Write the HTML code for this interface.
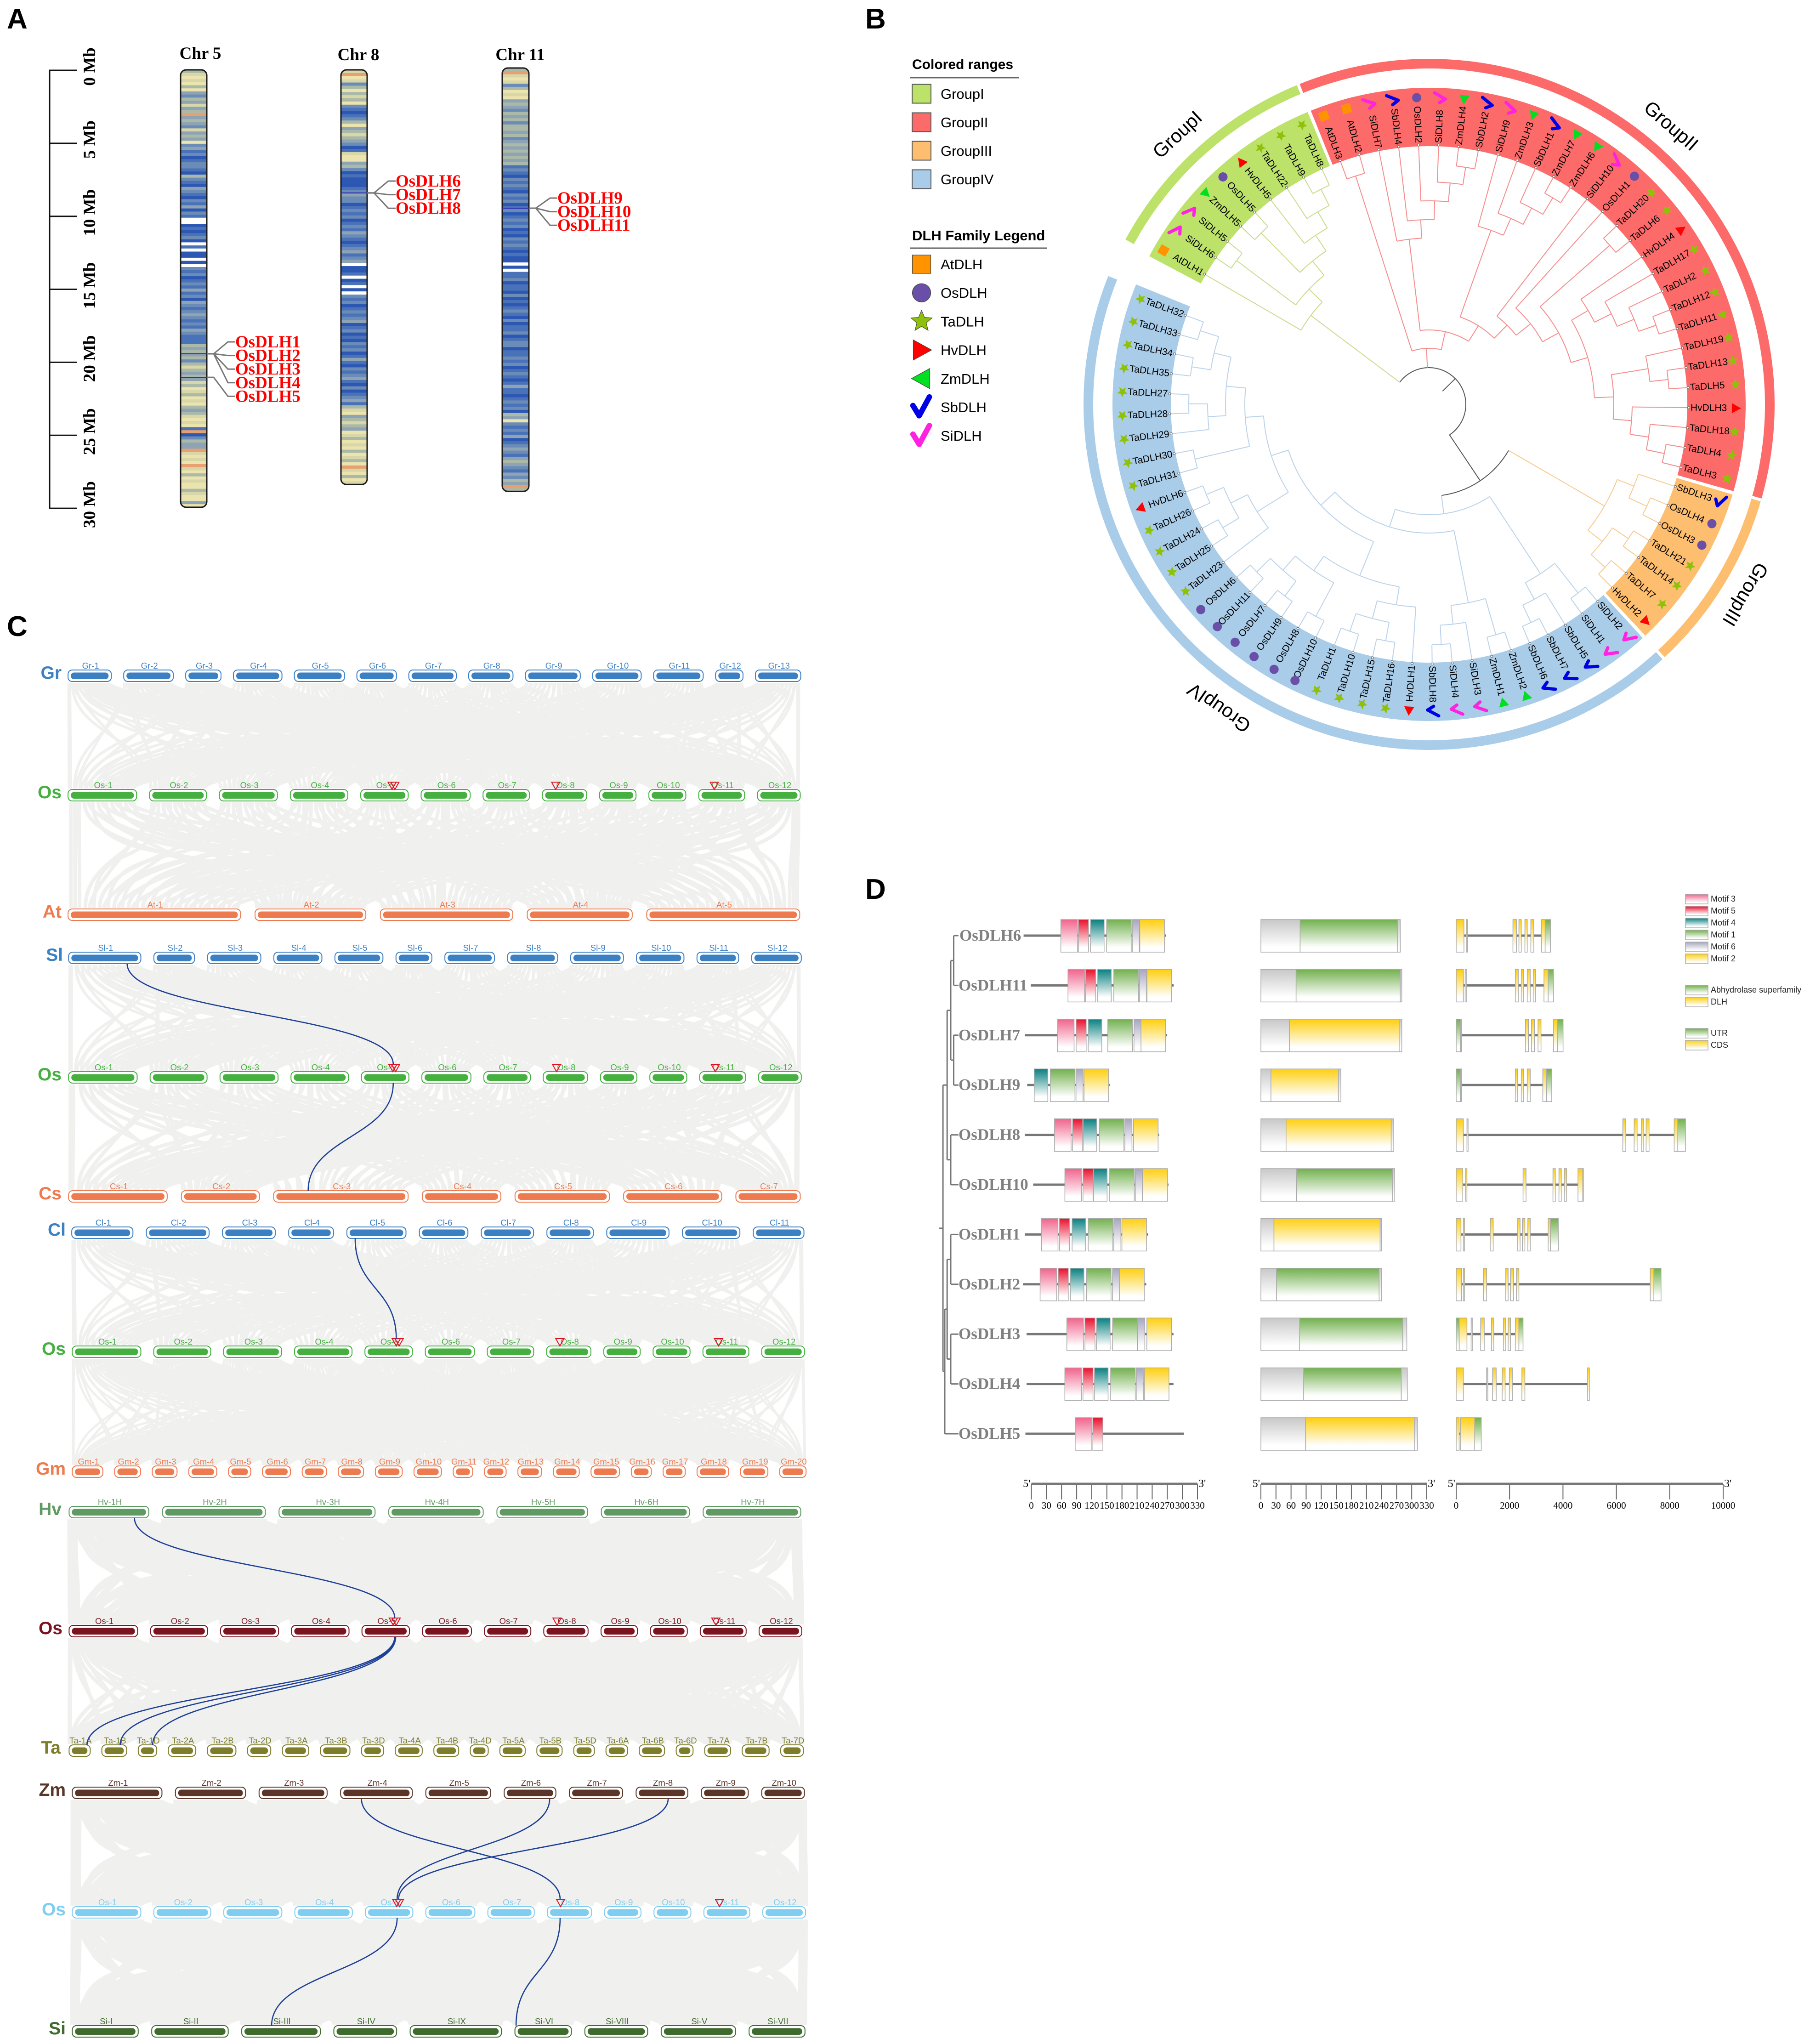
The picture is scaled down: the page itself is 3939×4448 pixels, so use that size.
<!DOCTYPE html>
<html lang="en">
<head>
<meta charset="utf-8">
<title>DLH gene family figure</title>
<style>
html,body{margin:0;padding:0;background:#fff}
svg{display:block}
text{font-family:"Liberation Sans",Arial,sans-serif}
.serif{font-family:"Liberation Serif","Times New Roman",serif}
</style>
</head>
<body>
<svg id="fig" xmlns="http://www.w3.org/2000/svg" width="3939" height="4448" viewBox="0 0 3939 4448">
<defs id="defs"></defs>
<rect x="0" y="0" width="3939" height="4448" fill="#fff"/>
<g font-weight="bold" font-size="62" fill="#000">
<text x="15" y="62">A</text>
<text x="1883" y="62">B</text>
<text x="15" y="1384">C</text>
<text x="1883" y="1956">D</text>
</g>
<g id="panelA"></g>
<g id="panelB"></g>
<g id="panelC"></g>
<g id="panelD"></g>
</svg>
<script>
/* ---------- shared helpers ---------- */
const NS='http://www.w3.org/2000/svg';
function mk(tag,attrs,parent){
  const e=document.createElementNS(NS,tag);
  for(const k in attrs)e.setAttribute(k,attrs[k]);
  if(parent)parent.appendChild(e);
  return e;
}
function txt(parent,str,attrs){
  const e=mk('text',attrs,parent);
  e.textContent=str;
  return e;
}
const defs=document.getElementById('defs');

/* ---------- PANEL A data ---------- */
const mbTicks=[0,5,10,15,20,25,30];
const chrNames=['Chr 5','Chr 8','Chr 11'];
const chrLengthsMb=[29.96,28.4,29.0];
const chrBands=[
 '3212131453424 3r434524341546576556735674567564756007676570607707056576564657456545656456663434353234342312312134321216r75344r2121r2131211321141'.replace(' ',''),
 '2r125313231567653143234576211435767776545576565765645676546540776076070565765654765767565764675654675765463214323412312131231r21312',
 '3r21253121434534353343543434343656756567565765765657675656767707066576675767656757665765576656576567646676565734156564765456434564534r3'
];
const chrGenes=[
 [['OsDLH1',19.45],['OsDLH2',19.45],['OsDLH3',19.45],['OsDLH4',19.45],['OsDLH5',21.06]],
 [['OsDLH6',8.43],['OsDLH7',8.43],['OsDLH8',8.43]],
 [['OsDLH9',9.6],['OsDLH10',9.6],['OsDLH11',9.6]]
];

/* ---------- PANEL B data ---------- */
const leafNames=['AtDLH1','SiDLH6','SiDLH5','ZmDLH5','OsDLH5','HvDLH5','TaDLH22','TaDLH9','TaDLH8',
'AtDLH3','AtDLH2','SiDLH7','SbDLH4','OsDLH2','SiDLH8','ZmDLH4','SbDLH2','SiDLH9','ZmDLH3','SbDLH1','ZmDLH7','ZmDLH6','SiDLH10','OsDLH1','TaDLH20','TaDLH6','HvDLH4','TaDLH17','TaDLH2','TaDLH12','TaDLH11','TaDLH19','TaDLH13','TaDLH5','HvDLH3','TaDLH18','TaDLH4','TaDLH3',
'SbDLH3','OsDLH4','OsDLH3','TaDLH21','TaDLH14','TaDLH7','HvDLH2',
'SiDLH2','SiDLH1','SbDLH5','SbDLH7','SbDLH6','ZmDLH2','ZmDLH1','SiDLH3','SiDLH4','SbDLH8','HvDLH1','TaDLH16','TaDLH15','TaDLH10','TaDLH1','OsDLH10','OsDLH8','OsDLH9','OsDLH7','OsDLH11','OsDLH6','TaDLH23','TaDLH25','TaDLH24','TaDLH26','HvDLH6','TaDLH31','TaDLH30','TaDLH29','TaDLH28','TaDLH27','TaDLH35','TaDLH34','TaDLH33','TaDLH32'];
const groupNames=['GroupI','GroupII','GroupIII','GroupIV'];
const groupColors=['#bce26a','#fd6a6a','#fdbf6f','#a9cce9'];
const groupLines=['#c9dc8e','#f58e8e','#f7cb94','#bcd3ea'];
const groupFirstLeaf=[0,9,38,45];
const groupLastLeaf=[8,37,44,79];
const groupLabelAngles=[-43,41,121,214.7];
const treeG1=[322,0,[362,[523,1,2],[402,[522,3,4],[443,5,[484,6,[524,7,8]]]]]];
const g2a=[362,11,[402,12,[443,13,[484,14,[522,15,16]]]]];
const g2b=[402,17,[442,18,[482,19,[524,20,21]]]];
const g2c=[402,26,[443,27,[483,28,[523,29,30]]]];
const g2d=[402,[483,31,[523,32,33]],[442,34,[483,35,[523,36,37]]]];
const g2e=[322,[524,24,25],[360,g2c,g2d]];
const treeG2=[122,[522,9,10],[162,g2a,[202,g2b,[242,22,[282,23,g2e]]]]];
const treeG3=[441,[480,38,[523,39,40]],[481,[523,41,42],[522,43,44]]];
const g4a=[401,[523,71,72],[443,[482,73,[523,74,75]],[481,[523,76,77],[523,78,79]]]];
const g4b=[441,66,[482,[523,67,68],[523,69,70]]];
const g4c=[402,[440,[481,[523,64,65],[522,62,63]],[523,60,61]],[442,[482,[523,58,59],[523,56,57]],55]];
const g4d=[440,[522,50,51],[481,52,[523,53,54]]];
const g4e=[441,[523,45,46],[482,47,[524,48,49]]];
const treeG4=[240,[280,[322,[361,g4a,g4b],g4c],g4d],g4e];
const familyNames=['AtDLH','OsDLH','TaDLH','HvDLH','ZmDLH','SbDLH','SiDLH'];

/* ---------- PANEL C data ---------- */
const osLengths=[130,108,110,109,90,93,88,84,69,70,87,81];
const synRows=[
 {sp:'Gr',color:'#3c80c4',top:1458,l:129,r:1518,lab:134,len:[82,94,67,92,95,75,90,84,104,92,94,52,86]},
 {sp:'Os',color:'#45b040',top:1718,l:129,r:1517,lab:134,len:osLengths,mark:1},
 {sp:'At',color:'#ee7b50',top:1978,l:129,r:1516,lab:134,len:[327,210,251,199,290]},
 {sp:'Sl',color:'#3c80c4',top:2072,l:130,r:1519,lab:137,len:[137,77,101,91,91,68,94,95,100,90,79,94]},
 {sp:'Os',color:'#45b040',top:2332,l:130,r:1519,lab:134,len:osLengths,mark:1},
 {sp:'Cs',color:'#ee7b50',top:2591,l:130,r:1517,lab:134,len:[187,148,255,149,179,186,122]},
 {sp:'Cl',color:'#3c80c4',top:2670,l:136,r:1524,lab:143,len:[116,119,100,85,112,92,99,88,118,109,96]},
 {sp:'Os',color:'#45b040',top:2929,l:137,r:1525,lab:143,len:osLengths,mark:1},
 {sp:'Gm',color:'#ee7b50',top:3190,l:137,r:1528,lab:143,len:[58,49,47,53,42,53,46,48,51,52,37,41,45,49,54,38,42,60,52,50]},
 {sp:'Hv',color:'#5e9a62',top:3278,l:131,r:1518,lab:134,len:[151,195,182,179,172,167,185],names:['1H','2H','3H','4H','5H','6H','7H']},
 {sp:'Os',color:'#7a1520',top:3537,l:131,r:1520,lab:136,len:osLengths,mark:1},
 {sp:'Ta',color:'#7d7d2a',top:3797,l:131,r:1523,lab:132,len:[40,47,35,52,54,44,50,56,42,51,47,34,48,48,39,41,48,32,49,51,43],names:['1A','1B','1D','2A','2B','2D','3A','3B','3D','4A','4B','4D','5A','5B','5D','6A','6B','6D','7A','7B','7D']},
 {sp:'Zm',color:'#5a3528',top:3889,l:137,r:1525,lab:143,len:[170,133,129,136,123,98,101,98,89,81]},
 {sp:'Os',color:'#7fcdf0',top:4149,l:137,r:1527,lab:143,len:osLengths,mark:1},
 {sp:'Si',color:'#3f6b2e',top:4408,l:137,r:1526,lab:143,len:[125,145,149,119,173,107,119,141,106],names:['I','II','III','IV','IX','VI','VIII','V','VII']}
];
const synPairs=[[0,1],[1,2],[3,4],[4,5],[6,7],[7,8],[9,10],[10,11],[12,13],[13,14]];
const synPairWeights=[6,8,6,8,6,5,14,8,14,14];
const synPairLanes=[2,3,2,2,2,2,3,2,3,3];
const laneBend=[0.5,0.22,0.72];
const osMarkChrom=[4,4,7,10];
const osMarkFrac=[0.66,0.72,0.30,0.34];
const highlightLinks=[
 [3,0,0.81,4,4,0.67],[4,4,0.67,5,2,0.257],[6,4,0.14,7,4,0.66],
 [9,0,0.82,10,4,0.69],[10,4,0.69,11,0,0.85],[10,4,0.70,11,1,0.74],[10,4,0.71,11,2,0.78],
 [12,3,0.29,13,7,0.29],[12,5,0.88,13,4,0.67],[12,7,0.62,13,4,0.70],
 [13,4,0.67,14,2,0.38],[13,7,0.29,14,5,0.02]
];

/* ---------- PANEL D data ---------- */
const geneNames=['OsDLH6','OsDLH11','OsDLH7','OsDLH9','OsDLH8','OsDLH10','OsDLH1','OsDLH2','OsDLH3','OsDLH4','OsDLH5'];
const proteinLengths=[283,284,283,164,267,269,245,245,292,292,315];
const rowOffsets=[252,264,254,258,254,268,254,251,257,257,255];
const motifOrder=['m3','m5','m4','m1','m6','m2'];
const motifWidths={m3:33,m5:20,m4:27,m1:49,m6:14,m2:49};
const motifStarts=[
 [74,109,133,165,216,231],[74,109,133,165,216,231],[65,102,126,165,217,231],
 [null,null,14,46,97,113],[59,95,116,148,199,216],[63,99,120,152,203,218],
 [33,69,94,126,177,193],[34,70,94,126,178,192],[80,116,139,171,221,239],
 [76,112,135,167,218,234],[99,134,null,null,null,null]
];
const domainStart=[78,70,57,20,50,71,26,31,77,85,89];
const domainEnd=[272,277,276,154,259,262,237,235,282,279,305];
const domainTotal=[277,280,280,159,264,266,240,240,290,291,311];
const domainKind=['G','G','Y','Y','Y','G','Y','G','G','G','Y'];
const geneEnd=[3557,3646,4004,3579,8590,4765,3825,7673,2505,4989,940];
const geneCds=[
 [0,291,380,425,2125,2259,2349,2438,2573,2662,2796,2908,3199,3333],
 [0,268,336,380,2215,2326,2438,2528,2662,2774,2886,2975,3288,3445],
 [157,201,2595,2707,2819,2930,3065,3177,3646,3803],
 [157,201,2215,2304,2438,2528,2662,2774,3244,3378],
 [0,268,403,447,6241,6353,6666,6778,6935,7024,7114,7225,8165,8299],
 [0,246,358,403,2505,2617,3624,3713,3848,3937,4049,4138,4563,4742],
 [0,179,268,313,1275,1387,2304,2394,2483,2573,2684,2774,3445,3534],
 [0,201,268,313,1029,1141,1857,1946,2036,2148,2259,2349,7270,7404],
 [112,403,559,604,917,1051,1320,1409,1767,1857,1946,2036,2215,2349],
 [0,268,1141,1186,1365,1499,1722,1834,1991,2103,2461,2573,4921,4989],
 [0,112,157,693]
];
const geneUtr=[[3333,3534],[3445,3646],[0,157,3803,4004],[0,157,3378,3579],[8299,8590],[4742,4765],[3534,3825],[7404,7673],[0,112,2349,2505],[],[693,940]];
const geneTree=[117,[124,[130,[135,0,1],[135,2,3]],[130,4,5]],[120,[124,[130,6,7],[130,8,9]],10]];
const aaTicks=[0,30,60,90,120,150,180,210,240,270,300,330];
const bpTicks=[0,2000,4000,6000,8000,10000];
const motifLegend=['Motif 3','Motif 5','Motif 4','Motif 1','Motif 6','Motif 2'];

/* ---------- PANEL A drawing ---------- */
(function(){
  const P=document.getElementById('panelA');
  const mbY0=153,pxPerMb=31.77;
  const yMb=m=>mbY0+m*pxPerMb;
  const bandColor={'0':'#ffffff','1':'#ece4ae','2':'#d9d7a8','3':'#abb9a8','4':'#8ea3b4','5':'#6c8cb8','6':'#4a72b8','7':'#2c58b4','r':'#e8a070'};
  const ruler=mk('g',{},P);
  
  
  const axis=mk('line',{x1:108,x2:108,y1:yMb(0),y2:yMb(30),stroke:'#111','stroke-width':3},ruler);
  
  
  mbTicks.forEach(m=>{
    const t=mk('line',{x1:107,x2:168,y1:yMb(m),y2:yMb(m),stroke:'#111','stroke-width':3},ruler);
    
    
    const l=txt(ruler,m+' Mb',{class:'serif','font-size':37,'font-weight':'bold','text-anchor':'middle',transform:`translate(207 ${yMb(m)-8}) rotate(-90)`,fill:'#000'});
    
    
  });
  const chrX=[393,742,1093],chrW=[57,57,58],chrTop=[152,152,148];
  const titleX=[436,780,1132],titleY=[128,131,131];
  const labelX=[512,861,1213],labelY0=[744,394,431];
  chrNames.forEach((name,c)=>{
    const g=mk('g',{},P);
    
    
    const H=chrLengthsMb[c]*pxPerMb,x=chrX[c],w=chrW[c],top=chrTop[c];
    const cp=mk('clipPath',{id:'chrclip'+c},defs);
    mk('rect',{x:x,y:top,width:w,height:H,rx:12},cp);
    const bg=mk('g',{'clip-path':`url(#chrclip${c})`},g);
    const s=chrBands[c],bh=H/s.length;
    for(let i=0;i<s.length;i++){
      const b=mk('rect',{x:x,y:top+i*bh,width:w,height:bh+0.6,fill:bandColor[s[i]]},bg);
      
      
    }
    const o=mk('rect',{x:x,y:top,width:w,height:H,rx:12,fill:'none',stroke:'#1a1a1a','stroke-width':3},g);
    
    
    const t=txt(g,name,{class:'serif','font-size':37,'font-weight':'bold','text-anchor':'middle',x:titleX[c],y:titleY[c],fill:'#000'});
    
    
    chrGenes[c].forEach((gn,i)=>{
      const ly=top+gn[1]*pxPerMb;
      const ty=labelY0[c]+i*29.6;
      const lx=labelX[c];
      const loc=mk('line',{x1:x,x2:x+w,y1:ly,y2:ly,stroke:'#3030b0','stroke-width':2},g);
      
      
      const con=mk('polyline',{points:`${x+w},${ly} ${x+w+15},${ly} ${lx-16},${ty} ${lx},${ty}`,fill:'none',stroke:'#777','stroke-width':3},g);
      
      
      const tt=txt(g,gn[0],{class:'serif','font-size':37,'font-weight':'bold',x:lx,y:ty+12,fill:'#ff0000'});
      
      
    });
  });
})();

/* ---------- PANEL B drawing ---------- */
(function(){
  const P=document.getElementById('panelB');
  const cx=3110,cy=880,STEP=4.43,A0=-59.9,TIP=565,ICON=668;
  const leafAngle=i=>A0+STEP*i;
  const pol=(a,r)=>{const t=a*Math.PI/180;return [cx+r*Math.sin(t),cy-r*Math.cos(t)];};
  const arcD=(r,a1,a2)=>{const p=pol(a1,r),q=pol(a2,r);return `M${p[0]} ${p[1]}A${r} ${r} 0 ${a2-a1>180?1:0} 1 ${q[0]} ${q[1]}`;};
  const sector=(r1,r2,a1,a2)=>{const p=pol(a1,r2),q=pol(a2,r2),u=pol(a2,r1),v=pol(a1,r1);const L=a2-a1>180?1:0;
    return `M${p[0]} ${p[1]}A${r2} ${r2} 0 ${L} 1 ${q[0]} ${q[1]}L${u[0]} ${u[1]}A${r1} ${r1} 0 ${L} 0 ${v[0]} ${v[1]}Z`;};
  const ringBounds=[[-61.5,-22.5],[-22,105.8],[106.3,137],[137.5,291.8]];
  groupNames.forEach((n,g)=>{
    const a1=leafAngle(groupFirstLeaf[g])-2.2+(g?0.3:0),a2=leafAngle(groupLastLeaf[g])+2.2-(g<3?0.3:0);
    const s=mk('path',{d:sector(562,689,a1,a2),fill:groupColors[g]},P);
    
    
    const r=mk('path',{d:sector(731,752,ringBounds[g][0],ringBounds[g][1]),fill:groupColors[g]},P);
    
    
    const c=pol(groupLabelAngles[g],800);
    const t=txt(P,n,{'font-size':42,'text-anchor':'middle','dominant-baseline':'middle',transform:`translate(${c[0]} ${c[1]}) rotate(${groupLabelAngles[g]})`,fill:'#000'});
    
    
  });
  const branches=mk('g',{fill:'none','stroke-width':2},P);
  
  
  function stroke(d,color){
    const p=mk('path',{d:d,stroke:color},branches);
    
    
    return p;
  }
  function radial(a,r1,r2,color){const p=pol(a,r1),q=pol(a,r2);stroke(`M${p[0]} ${p[1]}L${q[0]} ${q[1]}`,color);}
  function place(node,color){
    if(typeof node==='number')return {a:leafAngle(node),r:TIP};
    const r=node[0],kids=node.slice(1).map(k=>place(k,color));
    const as=kids.map(k=>k.a),mn=Math.min(...as),mx=Math.max(...as);
    stroke(arcD(r,mn,mx),color);
    kids.forEach(k=>radial(k.a,r,k.r,color));
    return {a:(mn+mx)/2,r:r};
  }
  const g1=place(treeG1,groupLines[0]),g2=place(treeG2,groupLines[1]),g3=place(treeG3,groupLines[2]),g4=place(treeG4,groupLines[3]);
  const black='#555';
  stroke(arcD(200,g3.a,g4.a),black);
  radial(g3.a,200,g3.r,groupLines[2]);
  radial(g4.a,200,g4.r,groupLines[3]);
  const a200=(g3.a+g4.a)/2;
  stroke(arcD(80,g1.a,a200),black);
  radial(a200,80,200,black);
  radial(g1.a,80,g1.r,groupLines[0]);
  radial(g2.a,80,g2.r,groupLines[1]);
  radial(45.5,41,80,black);

  const speciesColor={At:'#ff9400',Os:'#6a4fa8',Ta:'#8fc10b',Hv:'#ff0000',Zm:'#00e020',Sb:'#0000e6',Si:'#ff22e0'};
  function star(R){let pts=[];for(let i=0;i<10;i++){const r=i%2?R*0.45:R,t=i*Math.PI/5;pts.push((r*Math.cos(t)).toFixed(1)+','+(r*Math.sin(t)).toFixed(1));}return pts.join(' ');}
  function icon(parent,sp,tf,k,outline){
    const g=mk('g',{transform:tf},parent);
    const col=speciesColor[sp];
    const st=outline?{stroke:'#444','stroke-width':1.2/k}:{};
    if(sp==='At')mk('rect',Object.assign({x:-10,y:-10,width:20,height:20,fill:col},st),g);
    else if(sp==='Os')mk('circle',Object.assign({r:10,fill:col},st),g);
    else if(sp==='Ta')mk('polygon',Object.assign({points:star(12),fill:col,transform:'rotate(-90)'},st),g);
    else if(sp==='Hv')mk('polygon',Object.assign({points:'11,0 -9,-11 -9,11',fill:col},st),g);
    else if(sp==='Zm')mk('polygon',Object.assign({points:'-11,0 9,-11 9,11',fill:col},st),g);
    else mk('polyline',{points:'-11,-2 -3,11 10,-13',fill:'none',stroke:col,'stroke-width':7,'stroke-linejoin':'round','stroke-linecap':'round'},g);
    return g;
  }
  const leaves=mk('g',{},P);
  
  
  leafNames.forEach((n,i)=>{
    const a=leafAngle(i),tip=pol(a,TIP),lab=pol(a,569);
    const d=mk('circle',{cx:tip[0],cy:tip[1],r:2.4,fill:'#fff',stroke:'#666','stroke-width':1.2},leaves);
    
    
    const right=a>0&&a<180;
    const t=txt(leaves,n,{'font-size':21,'text-anchor':right?'start':'end','dominant-baseline':'central',transform:`translate(${lab[0]} ${lab[1]}) rotate(${right?a-90:a+90})`,fill:'#000'});
    
    
    const c=pol(a,ICON);
    const ic=icon(leaves,n.slice(0,2),`translate(${c[0]} ${c[1]}) rotate(${a-90})`,1,false);
    
    
  });
  /* legends */
  const L=mk('g',{},P);
  
  
  const h1=txt(L,'Colored ranges',{x:1985,y:150,'font-size':30,'font-weight':'bold',fill:'#000'});
  
  
  const h1l=mk('line',{x1:1980,x2:2217,y1:169,y2:169,stroke:'#666','stroke-width':3},L);
  
  
  groupNames.forEach((n,g)=>{
    const y=204+g*62;
    const s=mk('rect',{x:1985,y:y-20.5,width:41,height:41,fill:groupColors[g],stroke:'#555','stroke-width':2},L);
    
    
    const t=txt(L,n,{x:2047,y:y+11,'font-size':31,fill:'#000'});
    
    
  });
  const h2=txt(L,'DLH Family Legend',{x:1985,y:523,'font-size':31,'font-weight':'bold',fill:'#000'});
  
  
  const h2l=mk('line',{x1:1980,x2:2278,y1:540,y2:540,stroke:'#666','stroke-width':3},L);
  
  
  familyNames.forEach((n,i)=>{
    const y=575+i*62.2;
    const k=(n==='SbDLH'||n==='SiDLH')?1.7:2;
    const ic=icon(L,n.slice(0,2),`translate(2005.5 ${y}) scale(${k})`,k,true);
    
    
    const t=txt(L,n,{x:2047,y:y+11,'font-size':31,fill:'#000'});
    
    
  });
})();

/* ---------- PANEL C drawing ---------- */
(function(){
  const P=document.getElementById('panelC');
  const Z=1.148,CH=25;
  synRows.forEach(R=>{
    const left=R.l*Z,right=R.r*Z;
    const sum=R.len.reduce((a,b)=>a+b,0)*Z;
    const gap=(right-left-sum)/(R.len.length-1);
    let x=left;
    R.chips=R.len.map(v=>{const c={x:x,w:v*Z};x+=v*Z+gap;return c;});
  });
  const gray=mk('g',{fill:'none',stroke:'#f0f0ef'},P);
  
  
  synPairs.forEach((pr,pi)=>{
    const A=synRows[pr[0]],B=synRows[pr[1]];
    const y1=A.top+CH+3,y2=B.top-2;
    const n=A.chips.length,m=B.chips.length;
    A.chips.forEach((a,i)=>{
      B.chips.forEach((b,j)=>{
        for(let l=0;l<synPairLanes[pi];l++){
          const h=(y2-y1)*laneBend[l];
          const x1=a.x+a.w*(j+0.2+0.3*l)/m,x2=b.x+b.w*(i+0.2+0.3*l)/n;
          const p=mk('path',{d:`M${x1} ${y1}C${x1} ${y1+h} ${x2} ${y2-h} ${x2} ${y2}`,'stroke-width':synPairWeights[pi]},gray);
          
          
        }
      });
    });
  });
  synRows.forEach((R,ri)=>{
    const g=mk('g',{},P);
    
    
    const sl=txt(g,R.sp,{x:R.lab,y:R.top+19,'text-anchor':'end','font-size':39,'font-weight':'bold',fill:R.color});
    
    
    R.chips.forEach((c,i)=>{
      const o=mk('rect',{x:c.x,y:R.top,width:c.w,height:CH,rx:9,fill:'#fff',stroke:R.color,'stroke-width':2},g);
      
      
      const f=mk('rect',{x:c.x+6,y:R.top+5.5,width:c.w-12,height:14.5,rx:7,fill:R.color},g);
      
      
      const nm=R.names?R.names[i]:String(i+1);
      const t=txt(g,R.sp+'-'+nm,{x:c.x+c.w/2+2,y:R.top-3,'text-anchor':'middle','font-size':18.5,fill:R.color});
      
      
    });
    if(R.mark){
      osMarkChrom.forEach((ci,k)=>{
        const c=R.chips[ci],mx=c.x+c.w*osMarkFrac[k];
        const tr=mk('polygon',{points:`${mx-9},${R.top-16} ${mx+9},${R.top-16} ${mx},${R.top}`,fill:'none',stroke:'#e01020','stroke-width':2},g);
        
        
      });
    }
  });
  const blue=mk('g',{fill:'none',stroke:'#1c3f96','stroke-width':2.6},P);
  
  
  highlightLinks.forEach(L=>{
    const A=synRows[L[0]],B=synRows[L[3]];
    const x1=A.chips[L[1]].x+A.chips[L[1]].w*L[2];
    const x2=B.chips[L[4]].x+B.chips[L[4]].w*L[5];
    const y1=A.top+CH,y2=B.top-(B.mark?16:0);
    const h=(y2-y1)*0.5;
    const p=mk('path',{d:`M${x1} ${y1}C${x1} ${y1+h} ${x2} ${y2-h} ${x2} ${y2}`},blue);
    
    
  });
})();

/* ---------- PANEL D drawing ---------- */
(function(){
  const P=document.getElementById('panelD');
  const grads={m3:'#f0648c',m5:'#e8102e',m4:'#0a8080',m1:'#72b04e',m6:'#a8a6be',m2:'#ffcf10',gr:'#c8c8c8',G:'#72b04e',Y:'#ffcf10'};
  Object.keys(grads).forEach(k=>{
    const lg=mk('linearGradient',{id:'grad-'+k,x1:0,y1:0,x2:0,y2:1},defs);
    mk('stop',{offset:'0','stop-color':grads[k]},lg);
    mk('stop',{offset:'0.85','stop-color':'#ffffff'},lg);
  });
  const rowY=i=>2036+i*108.4;
  const boxTop=-35,boxH=71;
  const zx=z=>1900+1.3*z;
  const AA=1.095;
  const xDom=a=>2744+a*AA;
  const xGene=b=>3169+b*0.0581;
  function box(g,x,w,y,k,name){
    const r=mk('rect',{x:x,y:y+boxTop,width:Math.max(w,1),height:boxH,fill:`url(#grad-${k})`,stroke:'#aaa','stroke-width':1.5},g);
    
    
    return r;
  }
  geneNames.forEach((n,i)=>{
    const y=rowY(i);
    const g=mk('g',{},P);
    
    
    const t=txt(g,n,{class:'serif',x:i===0?2088:2086,y:y+11,'font-size':35,'font-weight':'bold',fill:'#808080'});
    
    
    const x0=zx(rowOffsets[i]);
    const ln=mk('line',{x1:x0,x2:x0+proteinLengths[i]*AA,y1:y,y2:y,stroke:'#777','stroke-width':5},g);
    
    
    motifOrder.forEach((m,k)=>{
      const s=motifStarts[i][k];
      if(s===null)return;
      box(g,x0+s*AA,motifWidths[m]*AA,y,m,'motif-block');
    });
    box(g,xDom(0),(domainStart[i])*AA,y,'gr','domain-gap');
    box(g,xDom(domainStart[i]),(domainEnd[i]-domainStart[i])*AA,y,domainKind[i],'domain-block');
    box(g,xDom(domainEnd[i]),(domainTotal[i]-domainEnd[i])*AA,y,'gr','domain-tail');
    const gl=mk('line',{x1:xGene(0),x2:xGene(geneEnd[i]),y1:y,y2:y,stroke:'#777','stroke-width':5},g);
    
    
    const cds=geneCds[i],utr=geneUtr[i];
    for(let q=0;q<cds.length;q+=2)box(g,xGene(cds[q]),xGene(cds[q+1])-xGene(cds[q]),y,'Y','cds-block');
    for(let q=0;q<utr.length;q+=2)box(g,xGene(utr[q]),xGene(utr[q+1])-xGene(utr[q]),y,'G','utr-block');
  });
  const T=mk('g',{fill:'none',stroke:'#777','stroke-width':3},P);
  
  
  function place(node){
    if(typeof node==='number'){return {y:rowY(node),x:zx(143)};}
    const x=zx(node[0]);
    const kids=node.slice(1).map(place);
    const ys=kids.map(k=>k.y);
    const mn=Math.min(...ys),mx=Math.max(...ys);
    let d=`M${x} ${mn}L${x} ${mx}`;
    kids.forEach(k=>{d+=`M${x} ${k.y}L${k.x} ${k.y}`;});
    const p=mk('path',{d:d},T);
    
    
    return {y:(mn+mx)/2,x:x};
  }
  const root=place(geneTree);
  const rs=mk('line',{x1:root.x-8,x2:root.x,y1:root.y,y2:root.y,stroke:'#777','stroke-width':3},T);
  
  
  /* axes */
  function axis(x1,x2,vals,max,name){
    const g=mk('g',{},P);
    
    
    const scale=v=>x1+(x2-x1)*v/max;
    vals.forEach(v=>{
      const t=mk('line',{x1:scale(v),x2:scale(v),y1:3229,y2:3263,stroke:'#666','stroke-width':2},g);
      
      
      const l=txt(g,String(v),{class:'serif',x:scale(v),y:3283,'text-anchor':'middle','font-size':21,fill:'#000'});
      
      
    });
    const ln=mk('line',{x1:x1,x2:x2,y1:3229,y2:3229,stroke:'#777','stroke-width':5},g);
    
    
    const a=txt(g,"5'",{class:'serif',x:x1-2,y:3236,'text-anchor':'end','font-size':24,fill:'#000'});
    
    
    const b=txt(g,"3'",{class:'serif',x:x2+2,y:3236,'font-size':24,fill:'#000'});
    
    
  }
  axis(2244.5,2606,aaTicks,330,'motif-scale');
  axis(2744,3105,aaTicks,330,'domain-scale');
  axis(3169,3750,bpTicks,10000,'gene-scale');
  /* legend */
  const L=mk('g',{},P);
  
  
  function le(y,k,label){
    const r=mk('rect',{x:3668,y:y,width:49,height:21,fill:`url(#grad-${k})`,stroke:'#aaa','stroke-width':1.5},L);
    
    
    const t=txt(L,label,{x:3723,y:y+16,'font-size':18,fill:'#222'});
    
    
  }
  motifLegend.forEach((m,i)=>le(1946+i*26,motifOrder[i],m));
  le(2144,'G','Abhydrolase superfamily');
  le(2170,'Y','DLH');
  le(2238,'G','UTR');
  le(2264,'Y','CDS');
})();
</script>
</body>
</html>
